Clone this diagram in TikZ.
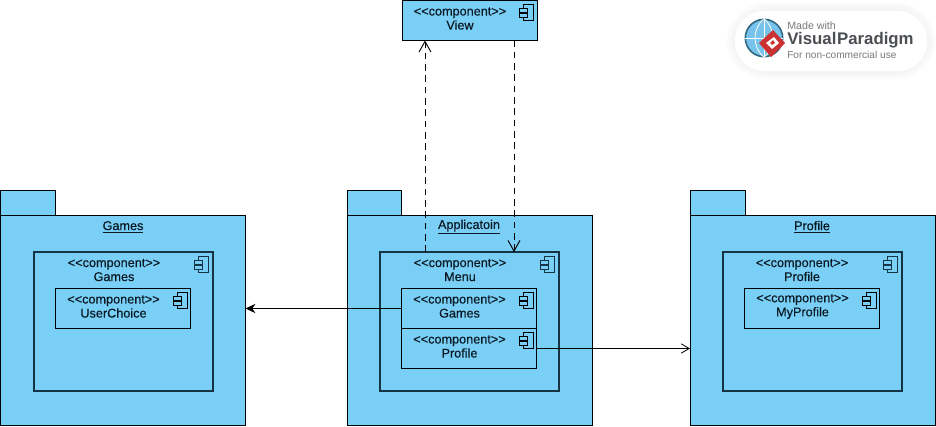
\documentclass[tikz,border=0pt]{standalone}
\usepackage{fontspec}
\setmainfont{Liberation Sans}
\newfontfamily\diagfont[FakeBold=0.35,Ligatures=NoCommon]{Liberation Sans}
\usetikzlibrary{arrows.meta,calc,positioning}
\definecolor{pkgfill}{RGB}{122,207,246}
\definecolor{outerline}{RGB}{22,52,68}
\definecolor{txt}{RGB}{10,25,35}
\definecolor{vpgrey}{RGB}{120,122,125}
\definecolor{vpdark}{RGB}{75,78,82}
\definecolor{vpred}{RGB}{205,50,50}
\definecolor{vpblue}{RGB}{120,195,235}
\definecolor{vprim}{RGB}{50,105,130}
\newcommand{\stereo}{<{}<component>{}>}
\tikzset{
  x=0.75pt,y=-0.75pt,
  pkgbody/.style={draw=black,fill=pkgfill,line width=0.75pt,anchor=north west,inner sep=0pt,outer sep=0pt,minimum width=#1},
  comp/.style={draw=black,fill=pkgfill,line width=0.75pt,anchor=north west,inner sep=0pt,outer sep=0pt,minimum width=101.6pt,minimum height=30pt},
  outercomp/.style={draw=outerline,fill=pkgfill,line width=1.5pt,anchor=north west,inner sep=0pt,outer sep=0pt,minimum width=134.25pt,minimum height=104.25pt},
  lbl/.style={font=\diagfont\fontsize{9.5}{10.5}\selectfont,text=txt,align=center,inner sep=0pt},
  pkgtitle/.style={font=\diagfont\fontsize{9.5}{10.5}\selectfont,text=txt,inner sep=0pt},
  depline/.style={draw=black,line width=0.75pt,dash pattern=on 5pt off 3.5pt,-{Straight Barb[length=8pt,width=9pt,line width=0.7pt]}},
  refline/.style={draw=black,line width=0.75pt},
  pics/icon/.style={code={
    \draw[draw=#1,line width=0.75pt,fill=pkgfill] (-10,0) rectangle (0,16);
    \draw[draw=#1,line width=0.75pt,fill=pkgfill] (-14,3.5) rectangle (-6,7.8);
    \draw[draw=#1,line width=0.75pt,fill=pkgfill] (-14,8.8) rectangle (-6,13);
  }}
}
\begin{document}
\begin{tikzpicture}
\useasboundingbox (0,0) rectangle (936,427);
\fill[white] (0,0) rectangle (936,427);
% watermark
\foreach \g in {8,6,4,2}{
  \fill[black!4,opacity=0.35,rounded corners=29pt] ($(735,11)+(-\g,-\g)$) rectangle ($(927,71)+(\g,\g)$);
}
\node[draw=none,fill=white,rounded corners=22pt,minimum width=144pt,minimum height=45pt,inner sep=0pt,outer sep=0pt,anchor=north west] (badge) at (735,11) {};
\node[circle,draw=vprim,line width=1.2pt,fill=vpblue,minimum size=28pt,inner sep=0pt] (globe) at (764,38) {};
\draw[white,line width=0.6pt] (globe.west) -- (globe.east) (globe.north) -- (globe.south);
\draw[white,line width=0.6pt] (globe.north) .. controls (752,30) and (752,46) .. (globe.south);
\draw[white,line width=0.6pt] (globe.north) .. controls (776,30) and (776,46) .. (globe.south);
\fill[vpred] (773,30) -- (785,43) -- (771,57) -- (759,43) -- cycle;
\fill[white] (774,37) -- (779,43) -- (772,49) -- (766,43) -- cycle;
\fill[vpred] (773,40) -- (775,43) -- (772,45) -- (770,43) -- cycle;
\node[anchor=west,inner sep=0pt,text=vpgrey,font=\fontsize{8}{9}\selectfont] (vpa) at (787,26) {Made with};
\node[anchor=west,inner sep=0pt,text=vpdark,font=\bfseries\fontsize{12.6}{15}\selectfont] (vpb) at (787,40) {Visual\kern0.5pt Paradigm};
\node[anchor=west,inner sep=0pt,text=vpgrey,font=\fontsize{7.6}{9}\selectfont] (vpc) at (787,55) {For non-commercial use};

% packages
\node[pkgbody=41.25pt,minimum height=18.75pt] (tabg) at (0.5,191) {};
\node[pkgbody=183.75pt,minimum height=157.5pt] (pkgg) at (0.5,216) {};
\node[pkgtitle,anchor=center] (tg) at (123,227) {\underline{Games}};
\node[pkgbody=40.5pt,minimum height=18.75pt] (taba) at (347,191) {};
\node[pkgbody=183.75pt,minimum height=157.5pt] (pkga) at (347,216) {};
\node[pkgtitle,anchor=center] (ta) at (469,227) {\underline{Applicatoin}};
\node[pkgbody=41.25pt,minimum height=18.75pt] (tabp) at (690,191) {};
\node[pkgbody=183.75pt,minimum height=157.5pt] (pkgp) at (690,216) {};
\node[pkgtitle,anchor=center] (tp) at (812,227) {\underline{Profile}};

% outer components
\node[outercomp] (cg) at (34,252) {};
\pic at (208.5,257) {icon=outerline};
\node[lbl] (cgt) at (114,270) {\stereo\\Games};
\node[outercomp] (cm) at (380,252) {};
\pic at (554.5,257) {icon=outerline};
\node[lbl] (cmt) at (460,270) {\stereo\\Menu};
\node[outercomp] (cp) at (723,252) {};
\pic at (897.5,257) {icon=outerline};
\node[lbl] (cpt) at (802,270) {\stereo\\Profile};

% inner components
\node[comp] (iu) at (55.5,288.5) {};
\pic at (187,293) {icon=black};
\node[lbl] (iut) at (113.5,306.5) {\stereo\\UserChoice};
\node[comp] (ig) at (401.5,288.5) {};
\pic at (533,293) {icon=black};
\node[lbl] (igt) at (459.5,306.5) {\stereo\\Games};
\node[comp] (ip) at (401.5,328.5) {};
\pic at (533,333) {icon=black};
\node[lbl] (ipt) at (459.5,346.5) {\stereo\\Profile};
\node[comp] (im) at (744.5,288.5) {};
\pic at (876,293) {icon=black};
\node[lbl] (imt) at (802.5,306.5) {\stereo\\MyProfile};

% view
\node[comp] (view) at (402,0.5) {};
\pic at (533,5) {icon=black};
\node[lbl] (viewt) at (460,18.5) {\stereo\\View};

% connectors
\coordinate (vin) at ($(view.south west)+(23,0)$);
\coordinate (vout) at ($(view.south west)+(112,0)$);
\draw[depline] (cm.north -| vin) -- (vin);
\draw[depline] (vout) -- (cm.north -| vout);
\draw[refline,-{Stealth[length=7.5pt,width=7pt]}] (ig.west) -- (ig.west -| pkgg.east);
\draw[refline,-{Straight Barb[length=6pt,width=7pt,line width=0.6pt]}] (ip.east) -- (ip.east -| pkgp.west);
\end{tikzpicture}
\end{document}
